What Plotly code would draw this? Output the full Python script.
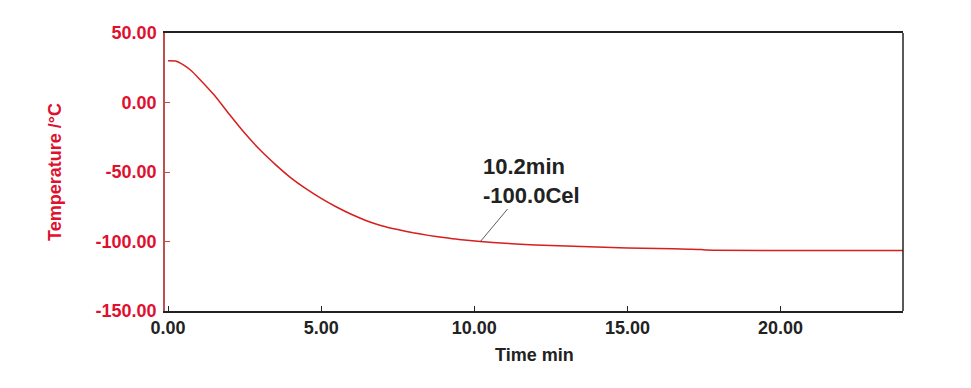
import plotly.graph_objects as go

# Data
time_min = [0.0, 0.25, 0.5, 0.75, 1.0, 1.5, 2.0, 2.5, 3.0, 3.5, 4.0, 4.5, 5.0,
            5.5, 6.0, 6.5, 7.0, 7.5, 8.0, 8.5, 9.0, 9.5, 10.2, 11.0, 12.0, 13.0,
            14.0, 15.0, 16.0, 17.0, 17.4, 17.6, 24.0]
temp_c = [30.0, 29.8, 27.0, 23.0, 17.5, 5.5, -8.5, -22.0, -34.0, -44.5, -54.0, -62.0, -69.0,
          -75.2, -80.6, -85.2, -88.8, -91.4, -93.7, -95.6, -97.2, -98.6, -100.0, -101.3, -102.5, -103.3,
          -104.0, -104.6, -105.1, -105.5, -105.7, -106.2, -106.4]
x_ticks = [0, 5, 10, 15, 20]
y_ticks = [-150, -100, -50, 0, 50]
marker_t = 10.2
marker_v = -100.0

RED = "#e0102f"
CURVE = "#d81e1e"
AXRED = "#c0504d"
FONT = "Liberation Sans, Arial, sans-serif"

fig = go.Figure()
fig.add_trace(go.Scatter(x=time_min, y=temp_c, mode="lines",
                         line=dict(color=CURVE, width=1.5, shape="spline", smoothing=0.5),
                         hoverinfo="skip", showlegend=False))

fig.update_layout(
    width=971, height=388,
    margin=dict(l=157, r=76, t=25, b=85),
    paper_bgcolor="white", plot_bgcolor="white",
    font=dict(family=FONT),
    xaxis=dict(range=[-0.1, 24], tickvals=x_ticks,
               ticktext=[f"{v:.2f}" for v in x_ticks],
               showgrid=False, zeroline=False,
               showline=True, linecolor="#222222", linewidth=1.5, mirror=True,
               ticks="inside", ticklen=5, tickcolor="#222222",
               tickfont=dict(family=FONT, size=18, color="#222222", weight="bold")),
    yaxis=dict(range=[-150, 50], tickvals=y_ticks,
               ticktext=[f"{v:.2f}" for v in y_ticks],
               showgrid=False, zeroline=False,
               showline=True, linecolor=AXRED, linewidth=1.5,
               ticks="inside", ticklen=5, tickcolor=AXRED, ticklabelstandoff=3,
               tickfont=dict(family=FONT, size=18, color=RED, weight="bold")),
    shapes=[dict(type="line", xref="paper", yref="paper", x0=1, x1=1, y0=0, y1=1,
                 line=dict(color="#222222", width=1.5))],
    annotations=[
        dict(x=marker_t, y=marker_v, xref="x", yref="y",
             text=f"{marker_t:.1f}min<br>{marker_v:.1f}Cel",
             showarrow=True, arrowhead=0, arrowwidth=0.8, arrowcolor="#333333",
             ax=51, ay=-61, align="left",
             font=dict(family=FONT, size=22, color="#222222", weight="bold")),
        dict(x=0.5, y=0, xref="paper", yref="paper", yshift=-44,
             text="Time min", showarrow=False, xanchor="center", yanchor="middle",
             font=dict(family=FONT, size=18, color="#222222", weight="bold")),
        dict(x=0, y=0.5, xref="paper", yref="paper", xshift=-110,
             text="Temperature /°C", showarrow=False, textangle=-90,
             xanchor="center", yanchor="middle",
             font=dict(family=FONT, size=18, color=RED, weight="bold")),
    ],
)

fig.write_html("out.html")
